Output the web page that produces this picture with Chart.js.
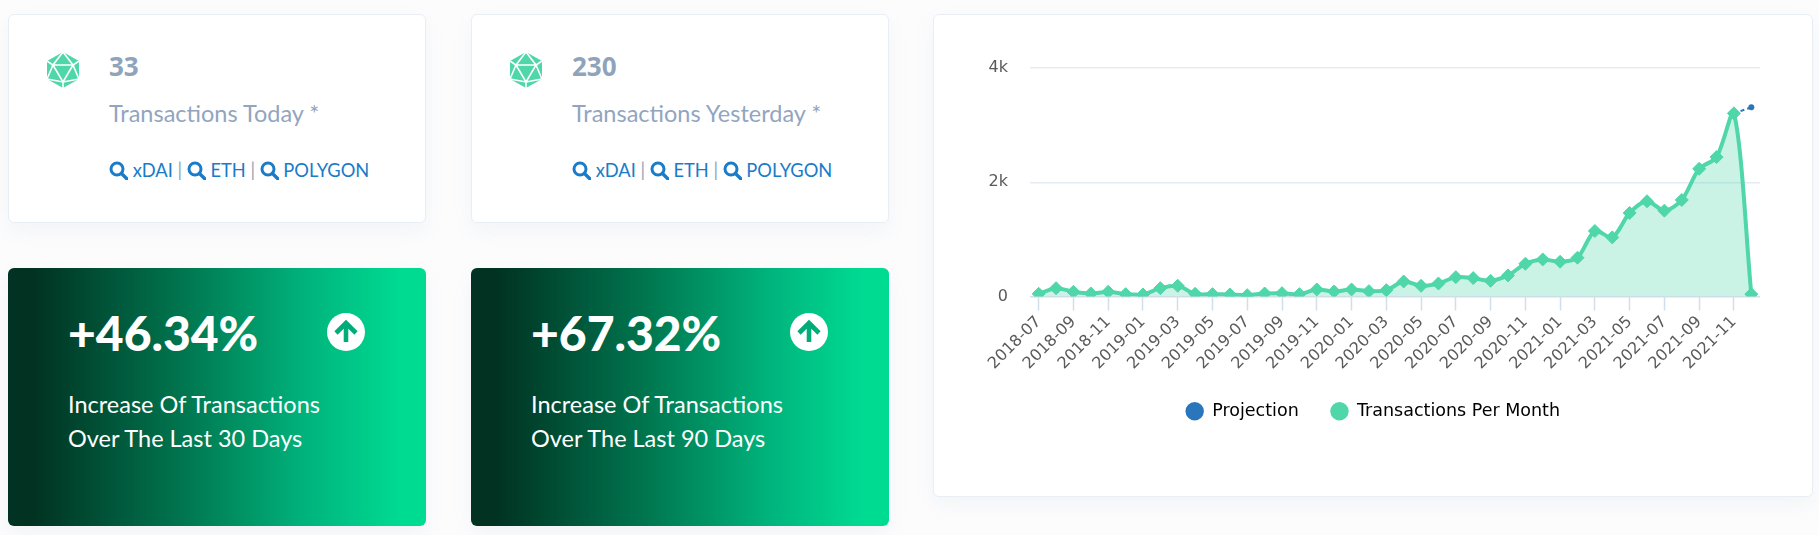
<!DOCTYPE html>
<html>
<head>
<meta charset="utf-8">
<style>
html, body { margin: 0; padding: 0; }
body { width: 1819px; height: 535px; overflow: hidden; background: #fcfcfd; position: relative; font-family: Lato, "Open Sans", sans-serif; }
.card { position: absolute; box-sizing: border-box; background: #fff; border: 1px solid #e9eef4; border-radius: 6px; box-shadow: 0 8px 18px rgba(160,175,195,.10); }
.stat { top: 14px; width: 418px; height: 209px; }
.grad { position: absolute; top: 268px; width: 418px; height: 258px; border-radius: 6px; background: linear-gradient(90deg, #013222 6%, #00764f 42%, #00b57d 72%, #00db92 94%); color: #fff; box-shadow: 0 8px 18px rgba(160,175,195,.10); }
.icon { position: absolute; left: 37px; top: 37px; width: 34px; height: 36px; }
.num { position: absolute; left: 100px; top: 35px; font-family: "Open Sans", sans-serif; font-size: 26px; font-weight: 700; color: #8fa3bb; line-height: 32px; }
.lbl { position: absolute; left: 100px; top: 83px; font-size: 23.5px; color: #92a5bf; line-height: 30px; white-space: nowrap; }
.links { position: absolute; left: 100px; top: 142px; font-size: 18.3px; color: #1a7bc9; line-height: 26px; white-space: nowrap; }
.links svg { width: 19px; height: 19px; vertical-align: -3px; }
.links i { font-style: normal; color: #8fa3bb; }
.big { position: absolute; left: 60px; top: 38px; font-size: 48px; font-weight: 900; line-height: 54px; white-space: nowrap; }
.sub { position: absolute; left: 60px; top: 119px; font-size: 23.5px; line-height: 34px; white-space: nowrap; }
.arrow { position: absolute; left: 319px; top: 45px; width: 38px; height: 38px; }
#chartCard { left: 933px; top: 14px; width: 880px; height: 483px; }
#chartBox { position: absolute; left: 0; top: 0; width: 878px; height: 415px; }
</style>
</head>
<body>
<svg width="0" height="0" style="position:absolute">
  <defs>
    <g id="ico">
      <polygon points="17,0 33,9 33,27 17,36 1,27 1,9" fill="#4fd6a9"/>
      <path d="M17,0 L7,13 L27,13 Z M7,13 L17,30 L27,13 M1,9 L7,13 L1,27 M33,9 L27,13 L33,27 M1,27 L17,30 L33,27 M17,30 L17,36" fill="none" stroke="#fff" stroke-width="1.6"/>
    </g>
    <g id="mag">
      <circle cx="8" cy="8" r="6" fill="none" stroke="#1a7bc9" stroke-width="3"/>
      <line x1="12.5" y1="12.5" x2="18" y2="18" stroke="#1a7bc9" stroke-width="3.4" stroke-linecap="round"/>
    </g>
    <g id="up">
      <circle cx="19" cy="19" r="19" fill="#fff"/>
      <path d="M19,29 L19,11 M9,20 L19,10 L29,20" fill="none" stroke="#00ad78" stroke-width="4.6"/>
    </g>
  </defs>
</svg>

<div class="card stat" style="left:8px">
  <svg class="icon" viewBox="0 0 34 36"><use href="#ico"/></svg>
  <div class="num">33</div>
  <div class="lbl">Transactions Today *</div>
  <div class="links"><svg viewBox="0 0 19 19"><use href="#mag"/></svg> xDAI <i>|</i> <svg viewBox="0 0 19 19"><use href="#mag"/></svg> ETH <i>|</i> <svg viewBox="0 0 19 19"><use href="#mag"/></svg> POLYGON</div>
</div>
<div class="card stat" style="left:471px">
  <svg class="icon" viewBox="0 0 34 36"><use href="#ico"/></svg>
  <div class="num">230</div>
  <div class="lbl">Transactions Yesterday *</div>
  <div class="links"><svg viewBox="0 0 19 19"><use href="#mag"/></svg> xDAI <i>|</i> <svg viewBox="0 0 19 19"><use href="#mag"/></svg> ETH <i>|</i> <svg viewBox="0 0 19 19"><use href="#mag"/></svg> POLYGON</div>
</div>
<div class="grad" style="left:8px">
  <div class="big">+46.34%</div>
  <svg class="arrow" viewBox="0 0 38 38"><use href="#up"/></svg>
  <div class="sub">Increase Of Transactions<br>Over The Last 30 Days</div>
</div>
<div class="grad" style="left:471px">
  <div class="big">+67.32%</div>
  <svg class="arrow" viewBox="0 0 38 38"><use href="#up"/></svg>
  <div class="sub">Increase Of Transactions<br>Over The Last 90 Days</div>
</div>

<div class="card" id="chartCard">
  <div id="chartBox"><canvas id="txChart"></canvas></div>
</div>

<script src="https://cdn.jsdelivr.net/npm/chart.js@4"></script>
<script>
// === Data ===
const months = [
  "2018-07","2018-08","2018-09","2018-10","2018-11","2018-12",
  "2019-01","2019-02","2019-03","2019-04","2019-05","2019-06","2019-07","2019-08","2019-09","2019-10","2019-11","2019-12",
  "2020-01","2020-02","2020-03","2020-04","2020-05","2020-06","2020-07","2020-08","2020-09","2020-10","2020-11","2020-12",
  "2021-01","2021-02","2021-03","2021-04","2021-05","2021-06","2021-07","2021-08","2021-09","2021-10","2021-11","2021-12"
];
const txPerMonth = [
  47,146,82,53,82,41,
  35,146,187,47,41,35,23,53,58,41,123,88,
  123,94,111,263,187,228,339,322,275,369,573,649,
  608,679,1147,1035,1463,1667,1503,1690,2235,2440,3206,41
];
const projection = [
  null,null,null,null,null,null,
  null,null,null,null,null,null,null,null,null,null,null,null,
  null,null,null,null,null,null,null,null,null,null,null,null,
  null,null,null,null,null,null,null,null,null,null,3206,3311
];
const yTicks = { 0: "0", 2000: "2k", 4000: "4k" };

const GREEN = "#4fd6a9";
const BLUE = "#2a76bd";

// === Chart ===
new Chart(document.getElementById("txChart"), {
  type: "line",
  data: {
    labels: months,
    datasets: [
      {
        label: "Projection",
        data: projection,
        order: 2,
        borderColor: BLUE,
        backgroundColor: BLUE,
        borderWidth: 2,
        borderDash: [4, 3],
        pointStyle: "circle",
        pointRadius: 3,
        pointBorderWidth: 0,
        fill: false,
      },
      {
        label: "Transactions Per Month",
        data: txPerMonth,
        order: 1,
        borderColor: GREEN,
        backgroundColor: "rgba(79, 214, 169, 0.3)",
        pointBackgroundColor: GREEN,
        pointBorderColor: GREEN,
        borderWidth: 4,
        pointStyle: "rectRot",
        pointRadius: 6.5,
        pointBorderWidth: 1,
        tension: 0.3,
        fill: "origin",
      },
    ],
  },
  options: {
    responsive: true,
    maintainAspectRatio: false,
    animation: false,
    // left padding recentres the legend under the whole card, y axis is narrowed to match
    layout: { padding: { top: 53, right: 52, left: 52, bottom: 0 } },
    plugins: {
      tooltip: { enabled: false },
      legend: {
        position: "bottom",
        labels: {
          usePointStyle: true,
          pointStyle: "circle",
          boxHeight: 13,
          padding: 32,
          color: "#1c3a36",
          font: { family: "DejaVu Sans", size: 17.5 },
          generateLabels: (chart) =>
            chart.data.datasets.map((ds, i) => ({
              text: ds.label,
              fillStyle: ds.borderColor,
              strokeStyle: ds.borderColor,
              lineWidth: 0,
              pointStyle: "circle",
              datasetIndex: i,
            })),
        },
      },
    },
    scales: {
      x: {
        offset: true,
        afterFit: (scale) => { scale.height = 74; },
        border: { display: false },
        grid: { drawOnChartArea: false, drawTicks: true, tickLength: 14, tickColor: "#d3deeb", tickWidth: 1.5 },
        ticks: {
          autoSkip: true,
          maxTicksLimit: 21,
          autoSkipPadding: 0,
          minRotation: 45,
          maxRotation: 45,
          padding: 2,
          color: "#5a5a5a",
          font: { family: "DejaVu Sans", size: 16 },
        },
      },
      y: {
        min: 0,
        max: 4000,
        afterFit: (scale) => { scale.width = 44; },
        border: { display: false },
        grid: {
          drawTicks: false,
          lineWidth: 1.5,
          color: (ctx) => (ctx.tick && ctx.tick.value === 0 ? "#d3deeb" : "#e6ebf2"),
        },
        ticks: {
          stepSize: 2000,
          padding: 22,
          color: "#5a5a5a",
          font: { family: "DejaVu Sans", size: 16 },
          callback: (v) => yTicks[v],
        },
      },
    },
  },
});
</script>
</body>
</html>
